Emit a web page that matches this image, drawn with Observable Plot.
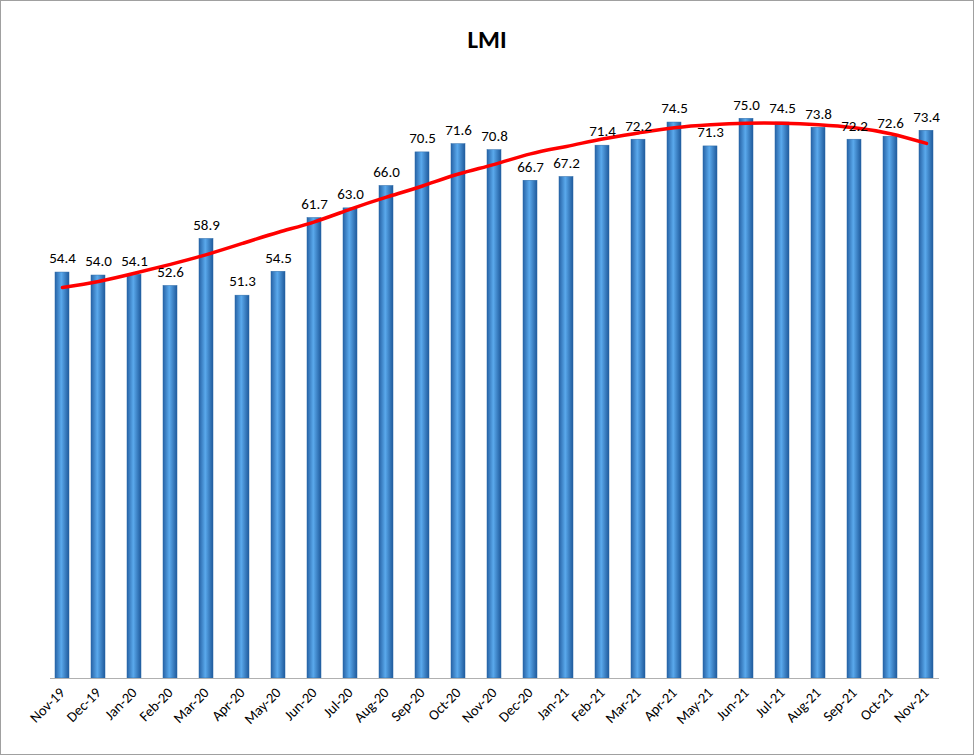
<!DOCTYPE html>
<html><head><meta charset="utf-8">
<script src="https://cdn.jsdelivr.net/npm/d3@7"></script>
<script src="https://cdn.jsdelivr.net/npm/@observablehq/plot@0.6"></script>
<style>
body{margin:0;background:#fff;font-family:Calibri,"Liberation Sans",Arial,sans-serif}
#box{width:974px;height:755px;box-sizing:border-box;border:1px solid #a0a0a0;position:relative;overflow:hidden}
#title{height:60px;line-height:78px;text-align:center;font-weight:bold;font-size:25px;color:#000}
</style></head><body>
<div id="box"><div id="title">LMI</div><div id="chart"></div></div>
<script>
const months = ["Nov-19","Dec-19","Jan-20","Feb-20","Mar-20","Apr-20","May-20","Jun-20","Jul-20","Aug-20","Sep-20","Oct-20","Nov-20","Dec-20","Jan-21","Feb-21","Mar-21","Apr-21","May-21","Jun-21","Jul-21","Aug-21","Sep-21","Oct-21","Nov-21"];
const values = [54.4,54.0,54.1,52.6,58.9,51.3,54.5,61.7,63.0,66.0,70.5,71.6,70.8,66.7,67.2,71.4,72.2,74.5,71.3,75.0,74.5,73.8,72.2,72.6,73.4];
const trend = [52.4,53.2,54.3,55.5,56.8,58.3,59.8,61.2,62.9,64.5,66.0,67.6,68.9,70.3,71.3,72.3,73.1,73.8,74.2,74.4,74.4,74.2,73.8,73.0,71.7];
const data = months.map((m,i)=>({m, v:values[i], t:trend[i]}));
const plot = Plot.plot({
  width: 972, height: 693,
  marginTop: 20, marginBottom: 76, marginLeft: 49, marginRight: 34,
  x: {domain: months, paddingInner: 0.6, paddingOuter: 0.1, label: null, tickSize: 0, tickRotate: -45},
  y: {domain: [0, 80], axis: null},
  style: {fontSize: "14px", fontFamily: "Calibri,'Liberation Sans',Arial,sans-serif", color: "#000"},
  marks: [
    Plot.barY(data, {x: "m", y: "v", fill: "url(#bargrad)", stroke: "#2a6aa8", strokeWidth: 0.5}),
    Plot.ruleY([0], {stroke: "#b0b0b0"}),
    Plot.line(data, {x: "m", y: "t", stroke: "#ff0000", strokeWidth: 3.5, curve: "natural"}),
    Plot.text(data, {x: "m", y: "v", text: d => d.v.toFixed(1), dy: -14, fontSize: 15, fill: "#000"})
  ]
});
document.getElementById("chart").appendChild(plot);
const svg = d3.select(plot);
const g = svg.insert("defs", ":first-child").append("linearGradient").attr("id","bargrad").attr("x1","0").attr("x2","1").attr("y1","0").attr("y2","0");
g.append("stop").attr("offset","0%").attr("stop-color","#2763a6");
g.append("stop").attr("offset","45%").attr("stop-color","#5aa9ec");
g.append("stop").attr("offset","100%").attr("stop-color","#1f5a9c");
svg.selectAll("g[aria-label='x-axis tick label'] text").style("font-size","14.5px");
</script></body></html>
